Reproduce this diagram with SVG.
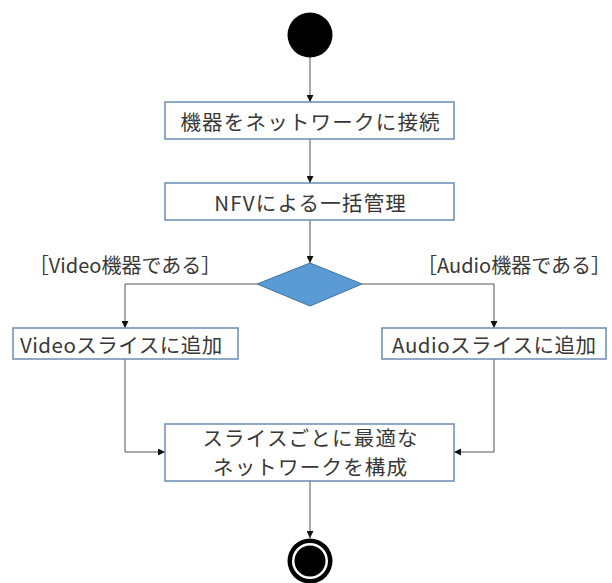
<svg xmlns="http://www.w3.org/2000/svg" width="612" height="583" viewBox="0 0 612 583">
<style>
.box{fill:#fff;stroke:#6a8db5;stroke-width:1.5}
.t{font-family:"Noto Sans CJK JP","Noto Sans",sans-serif;font-size:20px;fill:#383838;text-anchor:middle;dominant-baseline:central}
.w{font-size:20.5px;letter-spacing:1.2px}
.s{font-size:20.5px;letter-spacing:0.5px}
.c{fill:none;stroke:#555;stroke-width:1}
</style>
<defs>
<marker id="ah" viewBox="0 0 10 10" refX="10" refY="5" markerWidth="7" markerHeight="7" markerUnits="userSpaceOnUse" orient="auto">
<path d="M0,0 L10,5 L0,10 Z" fill="#111"/>
</marker>
</defs>
<g id="connectors">
<line class="c" x1="310" y1="57" x2="310" y2="102" marker-end="url(#ah)"/>
<line class="c" x1="310" y1="139" x2="310" y2="183" marker-end="url(#ah)"/>
<line class="c" x1="310" y1="220" x2="310" y2="263" marker-end="url(#ah)"/>
<polyline class="c" points="257,284 125,284 125,328" marker-end="url(#ah)"/>
<polyline class="c" points="362,284 494,284 494,328" marker-end="url(#ah)"/>
<polyline class="c" points="125,359 125,452 165,452" marker-end="url(#ah)"/>
<polyline class="c" points="494,359 494,452 454,452" marker-end="url(#ah)"/>
<line class="c" x1="310" y1="481" x2="310" y2="538" marker-end="url(#ah)"/>
</g>
<g id="start"><circle cx="310" cy="35" r="22.5" fill="#000"/></g>
<g id="n1"><rect class="box" x="165" y="102" width="289" height="37"/><text class="t w" x="310.6" y="120.5">機器をネットワークに接続</text></g>
<g id="n2"><rect class="box" x="165" y="183" width="289" height="37"/><text class="t w" x="310.6" y="201.5">NFVによる一括管理</text></g>
<g id="decision"><polygon points="310,263 362,284 310,306 257,284" fill="#5b9bd5" stroke="#41719c" stroke-width="1"/></g>
<g id="label-video"><text class="t" x="125" y="264">［Video機器である］</text></g>
<g id="label-audio"><text class="t" x="514" y="264">［Audio機器である］</text></g>
<g id="n3"><rect class="box" x="13" y="328" width="225" height="31"/><text class="t s" x="121.3" y="343.5">Videoスライスに追加</text></g>
<g id="n4"><rect class="box" x="382" y="328" width="224" height="31"/><text class="t s" x="494.3" y="343.5">Audioスライスに追加</text></g>
<g id="n5"><rect class="box" x="165" y="424" width="289" height="57"/><text class="t w"><tspan x="310.6" y="437">スライスごとに最適な</tspan><tspan x="310.6" y="466">ネットワークを構成</tspan></text></g>
<g id="end"><circle cx="310" cy="561" r="22.5" fill="#000"/><circle cx="310" cy="561" r="18" fill="#fff"/><circle cx="310" cy="561" r="15.5" fill="#000"/></g>
</svg>
